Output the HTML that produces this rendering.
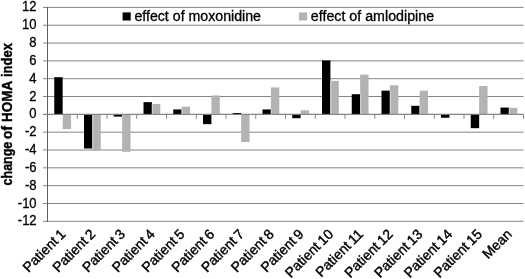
<!DOCTYPE html>
<html><head><meta charset="utf-8"><title>chart</title>
<style>html,body{margin:0;padding:0;background:#fff}svg{display:block}text{font-family:"Liberation Sans",sans-serif}</style>
</head><body>
<svg width="525" height="279" viewBox="0 0 525 279" font-size="14" fill="#000" stroke="#000" stroke-width="0.3">
<rect width="525" height="279" fill="#fff" stroke="none"/>
<g stroke-width="1" fill="none">
<line x1="43.0" x2="523.5" y1="221.31" y2="221.31" stroke="#848484"/>
<line x1="43.0" x2="523.5" y1="203.49" y2="203.49" stroke="#848484"/>
<line x1="43.0" x2="523.5" y1="185.66" y2="185.66" stroke="#848484"/>
<line x1="43.0" x2="523.5" y1="167.83" y2="167.83" stroke="#848484"/>
<line x1="43.0" x2="523.5" y1="150.01" y2="150.01" stroke="#848484"/>
<line x1="43.0" x2="523.5" y1="132.18" y2="132.18" stroke="#848484"/>
<line x1="43.0" x2="523.5" y1="114.36" y2="114.36" stroke="#848484"/>
<line x1="43.0" x2="523.5" y1="96.53" y2="96.53" stroke="#848484"/>
<line x1="43.0" x2="523.5" y1="78.70" y2="78.70" stroke="#848484"/>
<line x1="43.0" x2="523.5" y1="60.88" y2="60.88" stroke="#848484"/>
<line x1="43.0" x2="523.5" y1="43.05" y2="43.05" stroke="#848484"/>
<line x1="43.0" x2="523.5" y1="25.23" y2="25.23" stroke="#848484"/>
<line x1="43.0" x2="523.5" y1="7.40" y2="7.40" stroke="#848484"/>
<line x1="47.5" x2="47.5" y1="6.90" y2="221.81" stroke="#606060"/>
</g>
<g stroke="none">
<rect x="54.25" y="77.19" width="8.4" height="37.17" fill="#000"/>
<rect x="62.65" y="114.36" width="8.4" height="14.71" fill="#b3b3b3"/>
<rect x="84.00" y="114.36" width="8.4" height="34.14" fill="#000"/>
<rect x="92.40" y="114.36" width="8.4" height="36.10" fill="#b3b3b3"/>
<rect x="92.40" y="114.36" width="1" height="34.14" fill="#d2d2d2"/>
<rect x="113.75" y="114.36" width="8.4" height="2.23" fill="#000"/>
<rect x="122.15" y="114.36" width="8.4" height="37.43" fill="#b3b3b3"/>
<rect x="122.15" y="114.36" width="1" height="2.23" fill="#d2d2d2"/>
<rect x="143.50" y="102.15" width="8.4" height="12.21" fill="#000"/>
<rect x="151.90" y="103.93" width="8.4" height="10.43" fill="#b3b3b3"/>
<rect x="151.90" y="103.93" width="1" height="10.43" fill="#d2d2d2"/>
<rect x="173.25" y="109.45" width="8.4" height="4.90" fill="#000"/>
<rect x="181.65" y="106.69" width="8.4" height="7.67" fill="#b3b3b3"/>
<rect x="181.65" y="109.45" width="1" height="4.90" fill="#d2d2d2"/>
<rect x="203.00" y="114.36" width="8.4" height="9.80" fill="#000"/>
<rect x="211.40" y="95.46" width="8.4" height="18.90" fill="#b3b3b3"/>
<rect x="232.75" y="113.02" width="8.4" height="1.34" fill="#000"/>
<rect x="241.15" y="114.36" width="8.4" height="27.63" fill="#b3b3b3"/>
<rect x="262.50" y="109.45" width="8.4" height="4.90" fill="#000"/>
<rect x="270.90" y="87.44" width="8.4" height="26.92" fill="#b3b3b3"/>
<rect x="270.90" y="109.45" width="1" height="4.90" fill="#d2d2d2"/>
<rect x="292.25" y="114.36" width="8.4" height="3.83" fill="#000"/>
<rect x="300.65" y="110.26" width="8.4" height="4.10" fill="#b3b3b3"/>
<rect x="322.00" y="60.43" width="8.4" height="53.92" fill="#000"/>
<rect x="330.40" y="80.84" width="8.4" height="33.51" fill="#b3b3b3"/>
<rect x="330.40" y="80.84" width="1" height="33.51" fill="#d2d2d2"/>
<rect x="351.75" y="94.21" width="8.4" height="20.14" fill="#000"/>
<rect x="360.15" y="74.60" width="8.4" height="39.75" fill="#b3b3b3"/>
<rect x="360.15" y="94.21" width="1" height="20.14" fill="#d2d2d2"/>
<rect x="381.50" y="90.65" width="8.4" height="23.71" fill="#000"/>
<rect x="389.90" y="85.30" width="8.4" height="29.06" fill="#b3b3b3"/>
<rect x="389.90" y="90.65" width="1" height="23.71" fill="#d2d2d2"/>
<rect x="411.25" y="105.80" width="8.4" height="8.56" fill="#000"/>
<rect x="419.65" y="90.65" width="8.4" height="23.71" fill="#b3b3b3"/>
<rect x="419.65" y="105.80" width="1" height="8.56" fill="#d2d2d2"/>
<rect x="441.00" y="114.36" width="8.4" height="3.39" fill="#000"/>
<rect x="470.75" y="114.36" width="8.4" height="13.82" fill="#000"/>
<rect x="479.15" y="86.01" width="8.4" height="28.34" fill="#b3b3b3"/>
<rect x="500.50" y="107.58" width="8.4" height="6.77" fill="#000"/>
<rect x="508.90" y="107.85" width="8.4" height="6.51" fill="#b3b3b3"/>
<rect x="508.90" y="107.85" width="1" height="6.51" fill="#d2d2d2"/>
<rect x="122.6" y="12.4" width="8.1" height="8.1" fill="#000"/>
<rect x="299.0" y="12.4" width="8.2" height="8.1" fill="#b3b3b3"/>
</g>
<g stroke-width="1" fill="none">
<line x1="43.0" x2="523.5" y1="114.36" y2="114.36" stroke="#848484"/>
<line x1="77.25" x2="77.25" y1="114.36" y2="118.86" stroke="#848484"/>
<line x1="107.00" x2="107.00" y1="114.36" y2="118.86" stroke="#848484"/>
<line x1="136.75" x2="136.75" y1="114.36" y2="118.86" stroke="#848484"/>
<line x1="166.50" x2="166.50" y1="114.36" y2="118.86" stroke="#848484"/>
<line x1="196.25" x2="196.25" y1="114.36" y2="118.86" stroke="#848484"/>
<line x1="226.00" x2="226.00" y1="114.36" y2="118.86" stroke="#848484"/>
<line x1="255.75" x2="255.75" y1="114.36" y2="118.86" stroke="#848484"/>
<line x1="285.50" x2="285.50" y1="114.36" y2="118.86" stroke="#848484"/>
<line x1="315.25" x2="315.25" y1="114.36" y2="118.86" stroke="#848484"/>
<line x1="345.00" x2="345.00" y1="114.36" y2="118.86" stroke="#848484"/>
<line x1="374.75" x2="374.75" y1="114.36" y2="118.86" stroke="#848484"/>
<line x1="404.50" x2="404.50" y1="114.36" y2="118.86" stroke="#848484"/>
<line x1="434.25" x2="434.25" y1="114.36" y2="118.86" stroke="#848484"/>
<line x1="464.00" x2="464.00" y1="114.36" y2="118.86" stroke="#848484"/>
<line x1="493.75" x2="493.75" y1="114.36" y2="118.86" stroke="#848484"/>
<line x1="523.50" x2="523.50" y1="114.36" y2="118.86" stroke="#848484"/>
</g>
<text transform="translate(36.60,225.36) scale(0.93,1)" text-anchor="end">-12</text>
<text transform="translate(36.60,207.54) scale(0.93,1)" text-anchor="end">-10</text>
<text transform="translate(36.60,189.71) scale(0.93,1)" text-anchor="end">-8</text>
<text transform="translate(36.60,171.88) scale(0.93,1)" text-anchor="end">-6</text>
<text transform="translate(36.60,154.06) scale(0.93,1)" text-anchor="end">-4</text>
<text transform="translate(36.60,136.23) scale(0.93,1)" text-anchor="end">-2</text>
<text transform="translate(36.60,118.41) scale(0.93,1)" text-anchor="end">0</text>
<text transform="translate(36.60,100.58) scale(0.93,1)" text-anchor="end">2</text>
<text transform="translate(36.60,82.75) scale(0.93,1)" text-anchor="end">4</text>
<text transform="translate(36.60,64.93) scale(0.93,1)" text-anchor="end">6</text>
<text transform="translate(36.60,47.10) scale(0.93,1)" text-anchor="end">8</text>
<text transform="translate(36.60,29.28) scale(0.93,1)" text-anchor="end">10</text>
<text transform="translate(36.60,11.45) scale(0.93,1)" text-anchor="end">12</text>
<text transform="translate(12.1,0) rotate(-90)" font-weight="bold" font-size="14.2" stroke-width="0.4"><tspan x="-185.40" textLength="43.70" lengthAdjust="spacingAndGlyphs">change</tspan> <tspan x="-139.00" textLength="13.00" lengthAdjust="spacingAndGlyphs">of</tspan> <tspan x="-122.00" textLength="40.60" lengthAdjust="spacingAndGlyphs">HOMA</tspan> <tspan x="-77.00" textLength="33.90" lengthAdjust="spacingAndGlyphs">index</tspan></text>
<text transform="translate(134.40,20.80)" font-size="13.8" textLength="126.6" lengthAdjust="spacingAndGlyphs">effect of moxonidine</text>
<text transform="translate(310.80,20.80)" font-size="13.8" textLength="123.3" lengthAdjust="spacingAndGlyphs">effect of amlodipine</text>
<text transform="translate(66.38,235.00) rotate(-45) scale(0.995,1)" text-anchor="end" word-spacing="-1.3" stroke-width="0.4">Patient 1</text>
<text transform="translate(96.12,235.00) rotate(-45) scale(0.995,1)" text-anchor="end" word-spacing="-1.3" stroke-width="0.4">Patient 2</text>
<text transform="translate(125.88,235.00) rotate(-45) scale(0.995,1)" text-anchor="end" word-spacing="-1.3" stroke-width="0.4">Patient 3</text>
<text transform="translate(155.62,235.00) rotate(-45) scale(0.995,1)" text-anchor="end" word-spacing="-1.3" stroke-width="0.4">Patient 4</text>
<text transform="translate(185.38,235.00) rotate(-45) scale(0.995,1)" text-anchor="end" word-spacing="-1.3" stroke-width="0.4">Patient 5</text>
<text transform="translate(215.12,235.00) rotate(-45) scale(0.995,1)" text-anchor="end" word-spacing="-1.3" stroke-width="0.4">Patient 6</text>
<text transform="translate(244.88,235.00) rotate(-45) scale(0.995,1)" text-anchor="end" word-spacing="-1.3" stroke-width="0.4">Patient 7</text>
<text transform="translate(274.62,235.00) rotate(-45) scale(0.995,1)" text-anchor="end" word-spacing="-1.3" stroke-width="0.4">Patient 8</text>
<text transform="translate(304.38,235.00) rotate(-45) scale(0.995,1)" text-anchor="end" word-spacing="-1.3" stroke-width="0.4">Patient 9</text>
<text transform="translate(334.12,235.00) rotate(-45) scale(0.995,1)" text-anchor="end" word-spacing="-1.3" stroke-width="0.4">Patient 10</text>
<text transform="translate(363.88,235.00) rotate(-45) scale(0.995,1)" text-anchor="end" word-spacing="-1.3" stroke-width="0.4">Patient 11</text>
<text transform="translate(393.62,235.00) rotate(-45) scale(0.995,1)" text-anchor="end" word-spacing="-1.3" stroke-width="0.4">Patient 12</text>
<text transform="translate(423.38,235.00) rotate(-45) scale(0.995,1)" text-anchor="end" word-spacing="-1.3" stroke-width="0.4">Patient 13</text>
<text transform="translate(453.12,235.00) rotate(-45) scale(0.995,1)" text-anchor="end" word-spacing="-1.3" stroke-width="0.4">Patient 14</text>
<text transform="translate(482.88,235.00) rotate(-45) scale(0.995,1)" text-anchor="end" word-spacing="-1.3" stroke-width="0.4">Patient 15</text>
<text transform="translate(512.62,235.00) rotate(-45) scale(0.995,1)" text-anchor="end" word-spacing="-1.3" stroke-width="0.4">Mean</text>
</svg>
</body></html>
